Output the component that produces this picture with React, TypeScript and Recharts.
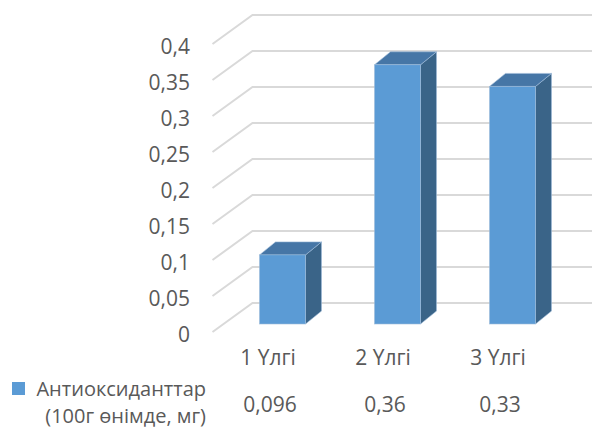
import React from "react"
import { BarChart, Bar, XAxis, YAxis, CartesianGrid } from "recharts"

const categories = ["1 Үлгі", "2 Үлгі", "3 Үлгі"]
const antioxidants = [0.096, 0.36, 0.33]
const yTicks = [0, 0.05, 0.1, 0.15, 0.2, 0.25, 0.3, 0.35, 0.4]
const seriesName = ["Антиоксиданттар", "(100г өнімде, мг)"]

const data = categories.map((name, i) => ({ name, value: antioxidants[i] }))

const W = 592
const H = 429
const FONT = "'Open Sans', sans-serif"
const FS = 21
const TEXT = "#595959"
const GRID = "#d9d9d9"
const BLUE = "#5b9bd5"

// depth of the fake 3D wall and bars
const WALL_DX = 40
const WALL_DY = -29
const BAR_SHIFT_X = 12
const BAR_SHIFT_Y = -8
const DEPTH_X = 16
const DEPTH_Y = -13

const fmt = (v: number) => String(v).replace(".", ",")

function GridLine(props: any) {
  const { x1, y1 } = props
  const bx = x1 + WALL_DX
  const by = y1 + WALL_DY
  return (
    <path
      key={props.key}
      d={`M${x1},${y1} L${bx},${by} L${W},${by}`}
      fill="none"
      stroke={GRID}
      strokeWidth={2}
    />
  )
}

function YTick(props: any) {
  const { y, payload } = props
  return (
    <text x={190} y={y + 2} textAnchor="end" dominantBaseline="central" fill={TEXT} fontSize={FS} fontFamily={FONT}>
      {fmt(payload.value)}
    </text>
  )
}

function XTick(props: any) {
  const { x, payload, index } = props
  return (
    <g>
      <text x={x - 2} y={357} textAnchor="middle" dominantBaseline="central" fill={TEXT} fontSize={FS} fontFamily={FONT}>
        {payload.value}
      </text>
      <text x={x} y={404} textAnchor="middle" dominantBaseline="central" fill={TEXT} fontSize={FS} fontFamily={FONT}>
        {fmt(antioxidants[index])}
      </text>
    </g>
  )
}

function Bar3D(props: any) {
  const { x, y, width, height } = props
  const fx = x + BAR_SHIFT_X
  const fy = y + BAR_SHIFT_Y
  const side = `${fx + width},${fy} ${fx + width + DEPTH_X},${fy + DEPTH_Y} ${fx + width + DEPTH_X},${fy + height + DEPTH_Y} ${fx + width},${fy + height}`
  const top = `${fx},${fy} ${fx + DEPTH_X},${fy + DEPTH_Y} ${fx + width + DEPTH_X},${fy + DEPTH_Y} ${fx + width},${fy}`
  return (
    <g>
      <polygon points={side} fill="#3a6488" stroke="#9dbbd9" strokeWidth={0.6} />
      <polygon points={top} fill="#4676a6" stroke="#9dbbd9" strokeWidth={0.6} />
      <rect x={fx} y={fy} width={width} height={height} fill={BLUE} stroke="#9dbbd9" strokeWidth={0.6} />
    </g>
  )
}

export default function App() {
  return (
    <div style={{ position: "absolute", left: 0, top: 0, width: W, height: H, background: "#fff" }}>
      <BarChart
        width={W}
        height={H}
        data={data}
        margin={{ top: 44, right: 34.5, bottom: 57, left: 152.5 }}
        barSize={46}
      >
        <CartesianGrid vertical={false} horizontal={GridLine} />
        <YAxis
          width={60}
          domain={[0, 0.4]}
          ticks={yTicks}
          axisLine={false}
          tickLine={false}
          tick={YTick}
          interval={0}
        />
        <XAxis dataKey="name" height={40} axisLine={false} tickLine={false} tick={XTick} interval={0} />
        <Bar dataKey="value" isAnimationActive={false} shape={Bar3D} />
      </BarChart>
      {/* legend key of the data table */}
      <svg width={W} height={H} style={{ position: "absolute", left: 0, top: 0, pointerEvents: "none" }}>
        <rect x={12} y={382} width={13} height={13} fill={BLUE} />
        <text x={206} y={388} textAnchor="end" dominantBaseline="central" fill={TEXT} fontSize={20} fontFamily={FONT}>
          {seriesName[0]}
        </text>
        <text x={206} y={415} textAnchor="end" dominantBaseline="central" fill={TEXT} fontSize={20} fontFamily={FONT}>
          {seriesName[1]}
        </text>
      </svg>
    </div>
  )
}
